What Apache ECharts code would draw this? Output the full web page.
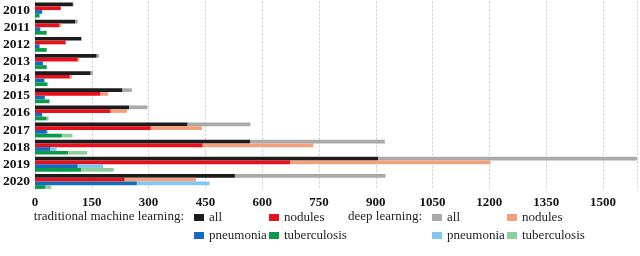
<!DOCTYPE html>
<html>
<head>
<meta charset="utf-8">
<script src="https://cdn.jsdelivr.net/npm/echarts@6/dist/echarts.min.js"></script>
<style>html,body{margin:0;padding:0;background:#fff;}#chart{width:640px;height:256px;}</style>
</head>
<body>
<div id="chart"></div>
<script>
const years = ['2010','2011','2012','2013','2014','2015','2016','2017','2018','2019','2020'];
const tmlAll          = [100, 107, 122, 163, 147, 231, 249, 403, 568, 906, 528];
const tmlNodules      = [68, 65, 81, 113, 92, 173, 200, 306, 443, 674, 237];
const tmlPneumonia    = [19, 14, 12, 21, 25, 26, 19, 31, 41, 113, 269];
const tmlTuberculosis = [12, 31, 31, 31, 33, 38, 31, 71, 88, 122, 28];
const dlAll           = [2, 6, 2, 6, 6, 25, 48, 166, 356, 684, 398];
const dlNodules       = [0, 5, 0, 4, 6, 20, 43, 135, 292, 529, 188];
const dlPneumonia     = [0, 0, 0, 0, 0, 0, 0, 4, 16, 67, 192];
const dlTuberculosis  = [0, 0, 0, 0, 0, 2, 5, 28, 50, 86, 15];
const xTicks = [0, 150, 300, 450, 600, 750, 900, 1050, 1200, 1350, 1500];
const groupLabels = ['traditional machine learning:', 'deep learning:'];

const FONT = '"Liberation Serif", "DejaVu Serif", serif';
const colors = {
  'tml all': '#1c1c1c', 'tml nodules': '#e8101c', 'tml pneumonia': '#166bbd', 'tml tuberculosis': '#0a9a48',
  'dl all': '#aaaaaa', 'dl nodules': '#f3a07c', 'dl pneumonia': '#80c8f0', 'dl tuberculosis': '#8ccf9a'
};
function mk(name, data, stack) {
  return { name, type: 'bar', stack, data, barGap: '0%', barCategoryGap: '13%',
    itemStyle: { color: colors[name] }, emphasis: { disabled: true } };
}
const series = [
  mk('tml all', tmlAll, 'all'), mk('dl all', dlAll, 'all'),
  mk('tml nodules', tmlNodules, 'nod'), mk('dl nodules', dlNodules, 'nod'),
  mk('tml pneumonia', tmlPneumonia, 'pne'), mk('dl pneumonia', dlPneumonia, 'pne'),
  mk('tml tuberculosis', tmlTuberculosis, 'tub'), mk('dl tuberculosis', dlTuberculosis, 'tub')
];
function legend(left, names) {
  return { left, top: 211, orient: 'vertical', padding: 0, itemGap: 5,
    itemWidth: 10, itemHeight: 7, icon: 'rect', selectedMode: false,
    data: names, formatter: n => n.replace(/^(tml|dl) /, ''),
    textStyle: { fontFamily: FONT, fontSize: 13, color: '#222', lineHeight: 12 } };
}
const chart = echarts.init(document.getElementById('chart'));
chart.setOption({
  animation: false,
  grid: { left: 33, right: 0, top: 1.5, bottom: 66 },
  xAxis: {
    type: 'value', min: 0, max: 1590, interval: 150,
    axisLine: { show: false }, axisTick: { show: false },
    axisLabel: { margin: 6, fontFamily: FONT, fontWeight: 'bold', fontSize: 13, color: '#111',
      formatter: v => xTicks.includes(v) ? String(v) : '' },
    splitLine: { show: true, lineStyle: { color: '#c8c8c8', type: [2, 2], width: 1 } }
  },
  yAxis: {
    type: 'category', data: years, inverse: true,
    axisLine: { show: true, lineStyle: { color: '#cccccc' } }, axisTick: { show: false },
    axisLabel: { interval: 0, margin: 5, fontFamily: FONT, fontWeight: 'bold', fontSize: 13.5, color: '#111' }
  },
  legend: [
    legend(194, ['tml all', 'tml pneumonia']),
    legend(269, ['tml nodules', 'tml tuberculosis']),
    legend(432, ['dl all', 'dl pneumonia']),
    legend(507, ['dl nodules', 'dl tuberculosis'])
  ],
  graphic: [
    { type: 'text', x: 184, y: 217, style: { text: groupLabels[0], textAlign: 'right', textVerticalAlign: 'middle', font: '13px ' + FONT, fill: '#222' } },
    { type: 'text', x: 422, y: 217, style: { text: groupLabels[1], textAlign: 'right', textVerticalAlign: 'middle', font: '13px ' + FONT, fill: '#222' } }
  ],
  series
});
</script>
</body>
</html>
